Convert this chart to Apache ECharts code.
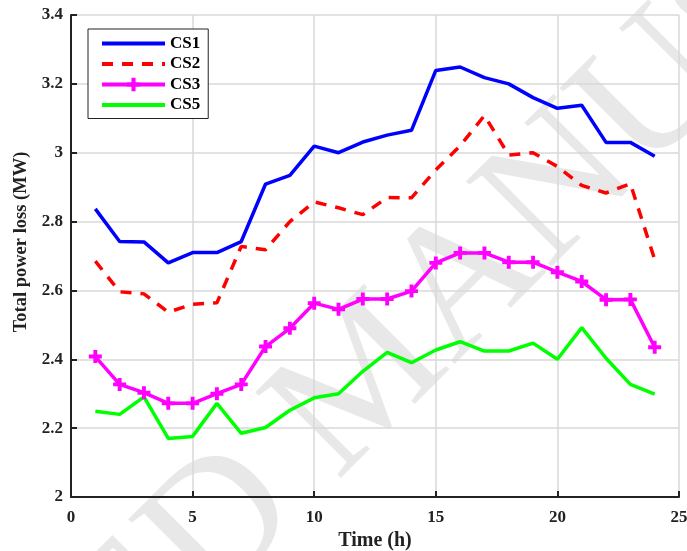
<!DOCTYPE html>
<html>
<head>
<meta charset="utf-8">
<script src="https://cdn.jsdelivr.net/npm/echarts@6/dist/echarts.min.js"></script>
<style>
html,body{margin:0;padding:0;background:#fff;}
#c{width:687px;height:551px;}
</style>
</head>
<body>
<div id="c"></div>
<script>
var hours = [1,2,3,4,5,6,7,8,9,10,11,12,13,14,15,16,17,18,19,20,21,22,23,24];
var cs1 = [2.837,2.742,2.741,2.68,2.71,2.71,2.742,2.909,2.934,3.019,3.0,3.031,3.051,3.065,3.239,3.249,3.218,3.2,3.16,3.129,3.138,3.03,3.03,2.99];
var cs2 = [2.685,2.596,2.59,2.537,2.56,2.564,2.728,2.718,2.80,2.857,2.84,2.82,2.87,2.869,2.95,3.02,3.108,2.993,3.0,2.96,2.905,2.883,2.91,2.69];
var cs3 = [2.408,2.327,2.303,2.272,2.272,2.30,2.327,2.437,2.49,2.563,2.545,2.575,2.575,2.598,2.68,2.709,2.709,2.682,2.682,2.653,2.626,2.573,2.574,2.435];
var cs5 = [2.249,2.24,2.291,2.17,2.176,2.272,2.185,2.202,2.252,2.288,2.30,2.365,2.42,2.39,2.427,2.451,2.424,2.424,2.447,2.40,2.492,2.403,2.327,2.299];
var seriesNames = ['CS1','CS2','CS3','CS5'];
var xTitle = 'Time (h)';
var yTitle = 'Total power loss (MW)';
var watermark = 'ACCEPTED MANUSCRIPT';

function pairs(arr){ return hours.map(function(h,i){ return [h, arr[i]]; }); }
var font = 'Liberation Serif';
var plus = 'path://M3.5,0H6.5V3.5H10V6.5H6.5V10H3.5V6.5H0V3.5H3.5Z';
var hidden = { opacity: 0 };
var legLine = { width: 4 };

var chart = echarts.init(document.getElementById('c'));
chart.setOption({
  backgroundColor: '#fff',
  animation: false,
  graphic: [{
    type: 'text', z: -10, silent: true,
    x: 370, y: 380,
    rotation: 45 * Math.PI / 180,
    style: { text: watermark, fill: 'rgba(0,0,0,0.09)', font: '185px "Liberation Serif"',
      align: 'center', verticalAlign: 'middle' }
  }],
  grid: { left: 71, right: 8, top: 15, bottom: 54, containLabel: false, outerBoundsMode: 'none' },
  legend: {
    orient: 'vertical', left: 88, top: 29,
    data: [
      { name: seriesNames[0], itemStyle: hidden, lineStyle: legLine },
      { name: seriesNames[1], itemStyle: hidden, lineStyle: legLine },
      { name: seriesNames[2], lineStyle: legLine },
      { name: seriesNames[3], itemStyle: hidden, lineStyle: legLine }
    ],
    backgroundColor: '#fff', borderColor: '#222', borderWidth: 1,
    padding: [6, 8, 5, 12],
    itemWidth: 63, itemHeight: 17, itemGap: 3.5,
    textStyle: { fontFamily: font, fontWeight: 'bold', fontSize: 17, color: '#000' }
  },
  xAxis: {
    type: 'value', min: 0, max: 25, interval: 5,
    name: xTitle, nameLocation: 'middle', nameGap: 31,
    nameTextStyle: { fontFamily: font, fontWeight: 'bold', fontSize: 20, color: '#222' },
    axisLine: { lineStyle: { color: '#222', width: 2 } },
    axisTick: { inside: true, length: 6, lineStyle: { color: '#222', width: 2 } },
    axisLabel: { fontFamily: font, fontWeight: 'bold', fontSize: 17, color: '#222', margin: 12 },
    splitLine: { show: true, lineStyle: { color: '#d8d8d8', width: 1.5 } }
  },
  yAxis: {
    type: 'value', min: 2, max: 3.4, interval: 0.2,
    name: yTitle, nameLocation: 'middle', nameGap: 34, nameRotate: 90,
    nameTextStyle: { fontFamily: font, fontWeight: 'bold', fontSize: 18.5, color: '#222', padding: [0,0,0,28] },
    axisLine: { show: true, lineStyle: { color: '#222', width: 2 } },
    axisTick: { show: true, inside: true, length: 6, lineStyle: { color: '#222', width: 2 } },
    axisLabel: { fontFamily: font, fontWeight: 'bold', fontSize: 17, color: '#222', margin: 8,
      formatter: function(v){ return String(+v.toFixed(1)); } },
    splitLine: { show: true, lineStyle: { color: '#d8d8d8', width: 1.5 } }
  },
  series: [
    { name: seriesNames[0], type: 'line', data: pairs(cs1), symbol: 'none', color: '#0000ff',
      lineStyle: { color: '#0000ff', width: 3.5 } },
    { name: seriesNames[1], type: 'line', data: pairs(cs2), symbol: 'none', color: '#ff0000',
      lineStyle: { color: '#ff0000', width: 3.5, type: [11, 9] } },
    { name: seriesNames[2], type: 'line', data: pairs(cs3), symbol: plus, symbolSize: 13, color: '#ff00ff',
      itemStyle: { color: '#ff00ff' },
      lineStyle: { color: '#ff00ff', width: 3.5 } },
    { name: seriesNames[3], type: 'line', data: pairs(cs5), symbol: 'none', color: '#00ff00',
      lineStyle: { color: '#00ff00', width: 3.5 } }
  ]
});
</script>
</body>
</html>
